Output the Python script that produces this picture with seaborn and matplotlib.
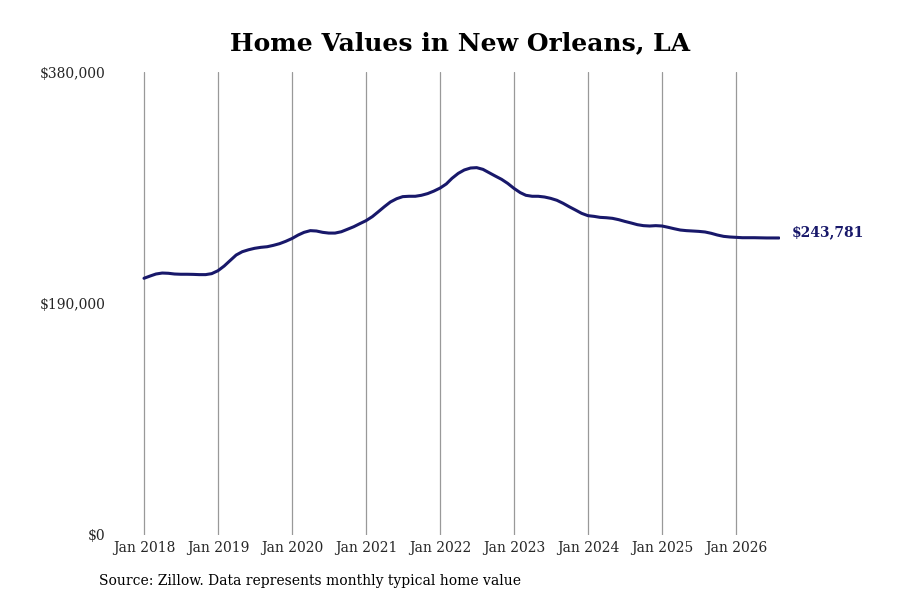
import matplotlib
matplotlib.use("Agg")
import matplotlib.pyplot as plt
import matplotlib.dates as mdates
import seaborn as sns
import pandas as pd

# Valores mensais (Jan 2018 - Ago 2026)
valores_2018 = [210700, 212600, 214200, 215000, 214800, 214200, 214000, 214000, 213900, 213700, 213700, 214500]
valores_2019 = [216900, 220800, 225100, 229800, 232500, 234100, 235300, 236100, 236600, 237700, 239100, 241000]
valores_2020 = [243300, 246200, 248400, 249800, 249500, 248400, 247800, 247800, 248900, 250900, 253000, 255500]
valores_2021 = [258000, 261300, 265100, 269400, 273300, 276000, 277700, 278000, 278000, 278800, 280200, 282200]
valores_2022 = [284700, 288100, 292700, 296800, 299600, 301200, 301500, 300100, 297300, 294600, 291900, 288600]
valores_2023 = [284500, 281000, 278800, 278000, 278000, 277400, 276300, 274700, 272200, 269400, 266700, 264000]
valores_2024 = [262100, 261500, 260700, 260400, 259900, 258800, 257400, 256100, 254700, 253900, 253600, 253900]
valores_2025 = [253600, 252500, 251400, 250300, 249800, 249500, 249200, 248700, 247600, 246200, 245100, 244600]
valores_2026 = [244300, 244000, 244000, 244000, 243900, 243800, 243800, 243781]

anos_ticks = list(range(2018, 2027))
y_ticks = [0, 190000, 380000]
y_labels = ["$0", "$190,000", "$380,000"]

valores = (valores_2018 + valores_2019 + valores_2020 + valores_2021 + valores_2022
           + valores_2023 + valores_2024 + valores_2025 + valores_2026)
datas = pd.date_range("2018-01-01", periods=len(valores), freq="MS")
df = pd.DataFrame({"data": datas, "valor": valores})

cor_linha = "#18186a"

sns.set_style("white")
plt.rcParams["font.family"] = ["DejaVu Serif"]

fig = plt.figure(figsize=(9, 6), dpi=100)
ax = fig.add_axes([110 / 900, 65 / 600, 670 / 900, 463 / 600])

sns.lineplot(data=df, x="data", y="valor", color=cor_linha, linewidth=2.2, ax=ax)

# limites do eixo x: um pouco antes de Jan 2018 até o fim da série
inicio = mdates.date2num(pd.Timestamp("2018-01-01"))
dias_px = 365.25 / 74
ax.set_xlim(inicio - 34 * dias_px, inicio + 636 * dias_px)
ax.set_ylim(0, 380000)

ticks_x = [pd.Timestamp(f"{a}-01-01") for a in anos_ticks]
ax.set_xticks(ticks_x)
ax.set_xticklabels([f"Jan {a}" for a in anos_ticks], fontsize=10)
ax.set_yticks(y_ticks)
ax.set_yticklabels(y_labels, fontsize=10)
ax.tick_params(length=0, pad=4)
ax.tick_params(axis="y", pad=3)

ax.grid(axis="x", color="#999999", linewidth=0.9)
ax.grid(axis="y", visible=False)
for s in ax.spines.values():
    s.set_visible(False)

ax.set_xlabel("")
ax.set_ylabel("")

# rótulo do último valor
ultimo = df.iloc[-1]
ax.annotate(f"${ultimo['valor']:,.0f}", xy=(ultimo["data"], ultimo["valor"]),
            xytext=(9.5, 4), textcoords="offset points", ha="left", va="center",
            fontsize=10, fontweight="bold", color=cor_linha)

fig.text(460 / 900, 1 - 43 / 600, "Home Values in New Orleans, LA", ha="center", va="center",
         fontsize=18, fontweight="bold", color="black")
fig.text(99 / 900, 1 - 581 / 600, "Source: Zillow. Data represents monthly typical home value",
         ha="left", va="center", fontsize=10, color="black")

fig.savefig("out.png", dpi=100)
